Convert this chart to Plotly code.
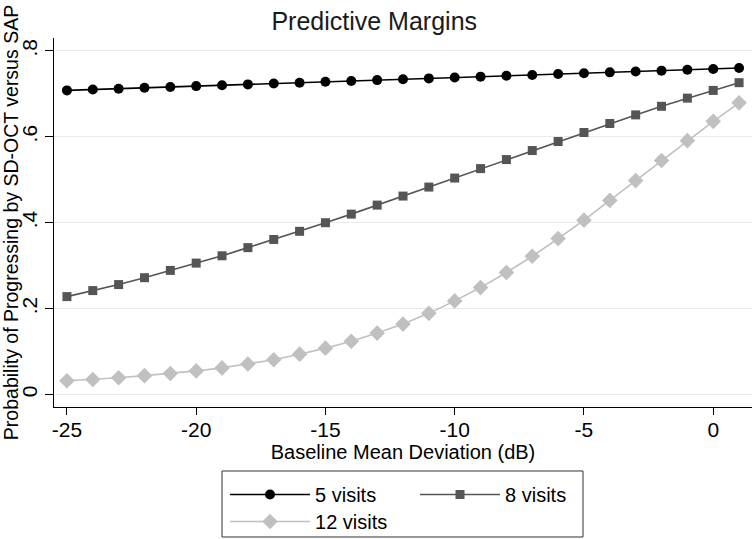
import plotly.graph_objects as go

# baseline mean deviation (dB)
md = [-25, -24, -23, -22, -21, -20, -19, -18, -17, -16, -15, -14, -13, -12,
      -11, -10, -9, -8, -7, -6, -5, -4, -3, -2, -1, 0, 1]

visits_5 = [0.708, 0.710, 0.712, 0.714, 0.716, 0.718, 0.720, 0.722, 0.724,
            0.726, 0.728, 0.730, 0.732, 0.734, 0.736, 0.738, 0.740, 0.742,
            0.744, 0.746, 0.748, 0.750, 0.752, 0.754, 0.756, 0.758, 0.760]
visits_8 = [0.228, 0.242, 0.256, 0.272, 0.289, 0.306, 0.323, 0.342, 0.361,
            0.380, 0.400, 0.420, 0.441, 0.462, 0.483, 0.504, 0.526, 0.547,
            0.568, 0.589, 0.610, 0.631, 0.651, 0.671, 0.690, 0.708, 0.726]
visits_12 = [0.032, 0.035, 0.039, 0.044, 0.049, 0.055, 0.062, 0.071, 0.081,
             0.094, 0.108, 0.124, 0.143, 0.164, 0.189, 0.218, 0.249, 0.284,
             0.322, 0.363, 0.406, 0.452, 0.498, 0.545, 0.591, 0.636, 0.679]

x_ticks = [-25, -20, -15, -10, -5, 0]
x_labels = ["-25", "-20", "-15", "-10", "-5", "0"]
y_ticks = [0, 0.2, 0.4, 0.6, 0.8]
y_labels = ["0", ".2", ".4", ".6", ".8"]

series = [
    {"name": "5 visits", "y": visits_5, "color": "#000000", "symbol": "circle",
     "size": 10, "legend": "legend"},
    {"name": "8 visits", "y": visits_8, "color": "#555555", "symbol": "square",
     "size": 9, "legend": "legend"},
    {"name": "12 visits", "y": visits_12, "color": "#c0c0c0", "symbol": "diamond",
     "size": 12, "legend": "legend2"},
]

fig = go.Figure()
for s in series:
    fig.add_trace(
        go.Scatter(
            x=md,
            y=s["y"],
            mode="lines+markers",
            name=s["name"],
            legend=s["legend"],
            line=dict(color=s["color"], width=1.6),
            marker=dict(color=s["color"], symbol=s["symbol"], size=s["size"]),
        )
    )

ff = "Liberation Sans, Arial, sans-serif"

# two legends (row 1 and row 2), framed by one box like Stata's legend
legend_common = dict(
    orientation="h",
    xanchor="left",
    yanchor="top",
    bgcolor="rgba(0,0,0,0)",
    borderwidth=0,
    entrywidth=95,
    itemwidth=80,
    font=dict(family=ff, size=20, color="#000000"),
)

fig.add_shape(
    type="rect",
    xref="paper",
    yref="paper",
    x0=0.2407,
    x1=0.7579,
    y0=-0.3523,
    y1=-0.1734,
    line=dict(color="#333333", width=1),
    fillcolor="rgba(0,0,0,0)",
)

fig.update_layout(
    width=753,
    height=539,
    margin=dict(l=54, r=1, t=38, b=132, autoexpand=False),
    paper_bgcolor="white",
    plot_bgcolor="white",
    font=dict(family=ff, size=20, color="#000000"),
    title=dict(
        text="Predictive Margins",
        x=0.497,
        xanchor="center",
        y=0.961,
        yanchor="middle",
        font=dict(family=ff, size=25, color="#1a1a1a"),
    ),
    showlegend=True,
    legend=dict(x=0.245, y=-0.1843, **legend_common),
    legend2=dict(x=0.245, y=-0.2575, **legend_common),
    xaxis=dict(
        range=[-25.5, 1.5],
        tickvals=x_ticks,
        ticktext=x_labels,
        tickfont=dict(family=ff, size=21),
        ticks="outside",
        ticklen=7,
        tickcolor="#000000",
        ticklabelstandoff=-3,
        showline=True,
        linecolor="#000000",
        linewidth=1,
        showgrid=False,
        zeroline=False,
        title=dict(text="Baseline Mean Deviation (dB)", standoff=2,
                   font=dict(family=ff, size=20)),
    ),
    yaxis=dict(
        range=[-0.029, 0.83],
        tickvals=y_ticks,
        ticktext=y_labels,
        tickfont=dict(family=ff, size=21),
        tickangle=-90,
        ticks="outside",
        ticklen=8,
        tickcolor="#000000",
        showline=True,
        linecolor="#000000",
        linewidth=1,
        showgrid=True,
        gridcolor="#eaeaea",
        gridwidth=1,
        zeroline=False,
        title=dict(text="Probability of Progressing by SD-OCT versus SAP", standoff=2,
                   font=dict(family=ff, size=19.5)),
    ),
)

# page has a default 8px body margin; drop it so the figure sits at the window origin
fig.write_html(
    "out.html",
    config={"displayModeBar": False},
    post_script="document.body.style.margin='0';",
)
